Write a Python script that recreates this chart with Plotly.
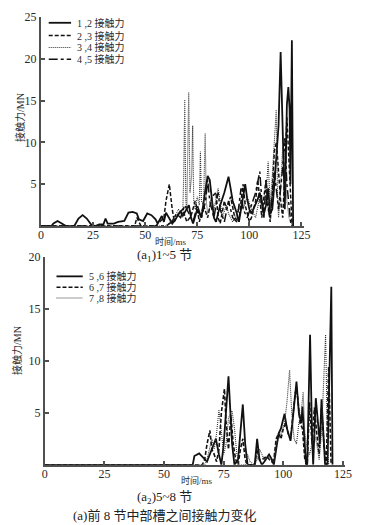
import plotly.graph_objects as go

# ---------------- data ----------------
# top panel: contact force between sections 1-5 (MN) vs time (ms)
t12 = [0, 5, 6, 8, 10, 12, 16, 18, 20, 22, 24, 26, 28, 30, 31, 32, 35, 37, 40, 42, 44, 46, 47, 49, 51, 53, 55, 56, 58, 59, 60, 62, 63, 65, 67, 68, 70, 71, 72, 73, 75, 77, 79, 80, 81, 82, 83, 84, 86, 88, 90, 91, 92, 94, 95, 97, 98, 99, 100, 101, 103, 104, 105, 106, 107, 108, 109, 110, 111, 112, 113, 114, 115, 116, 117, 117.5, 118, 118.7, 119.3, 119.7, 120.4, 121]
f12 = [0, 0, 0.3, 0.6, 0.3, 0, 0, 0.9, 1.3, 0.9, 0.2, 0, 0.2, 0.2, 0.9, 0.3, 0.3, 0.5, 0.6, 1.6, 1.7, 1.5, 0.8, 0.6, 1.5, 1.3, 0.8, 0.3, 1.2, 0.5, 1.6, 0.7, 0.3, 1.0, 1.8, 1.2, 2.2, 2.5, 1.0, 0.3, 2.0, 1.0, 4.5, 6.0, 5.5, 3.0, 1.0, 0.5, 2.5, 4.0, 5.9, 4.5, 3.0, 1.5, 0.5, 3.5, 5.0, 3.2, 2.0, 1.5, 2.5, 3.2, 4.0, 2.5, 1.5, 2.5, 4.5, 1.5, 2.0, 5.0, 8.0, 12.0, 20.8, 10.0, 2.0, 8.0, 14.5, 16.6, 14.0, 5.0, 22.2, 0]

t23 = [0, 45, 46, 47, 48, 55, 57, 59, 60, 61.6, 63, 64, 66, 68, 70, 72, 74, 75, 76, 78, 80, 82, 84, 85, 86, 88, 89, 91, 93, 95, 96, 97, 98, 100, 101, 103, 104, 105, 106, 107, 108, 109, 110, 111, 112, 113, 114, 115, 116, 117, 118, 119, 120, 120.5]
f23 = [0, 0, 1.0, 0.5, 0, 0, 0.5, 1.0, 3.0, 5.0, 2.0, 0.5, 1.5, 2.0, 0.5, 1.2, 3.0, 2.0, 0.5, 2.5, 1.0, 3.5, 4.0, 1.0, 0.3, 3.0, 2.0, 3.5, 1.0, 0.5, 3.0, 5.0, 2.5, 0.5, 1.0, 3.0, 5.5, 3.0, 1.0, 3.5, 5.5, 2.5, 0.5, 4.0, 9.0, 10.0, 6.0, 3.0, 1.0, 6.0, 13.0, 8.0, 2.0, 0]

t34 = [0, 60, 62, 64, 66, 68, 68.5, 69, 69.5, 70, 70.5, 70.9, 71.5, 72.3, 72.8, 73.3, 74, 75, 76, 76.5, 77, 78, 78.8, 79.3, 80, 82, 83, 85, 86, 87, 89, 90, 92, 94, 96, 97, 99, 101, 103, 105, 106, 108, 109, 110, 111, 112.9, 113.5, 114, 115, 116, 117, 118, 119, 120, 121]
f34 = [0, 0, 0.5, 1.0, 2.0, 1.0, 6.0, 15.1, 3.0, 2.0, 10.0, 16.0, 4.0, 6.0, 12.0, 3.0, 2.0, 3.5, 2.5, 8.9, 3.0, 2.5, 11.1, 3.0, 1.5, 3.0, 2.0, 4.5, 3.0, 1.0, 2.5, 1.5, 0.5, 1.5, 3.0, 2.0, 3.5, 2.0, 1.0, 3.5, 2.0, 3.5, 7.7, 2.5, 6.0, 13.9, 4.0, 1.0, 4.5, 9.5, 7.0, 3.0, 1.0, 0.5, 0]

t45 = [0, 60, 63, 65, 67, 69, 71, 73, 75, 77, 79, 80, 81, 83, 85, 86, 88, 90, 92, 94, 96, 97, 99, 101, 103, 105, 106, 107, 108, 109, 110, 112, 113, 114, 116, 117, 118, 119, 120]
f45 = [0, 0, 0.5, 1.5, 1.0, 2.5, 1.5, 0.5, 2.5, 1.0, 3.0, 5.5, 3.0, 1.0, 4.0, 2.0, 0.5, 3.0, 1.0, 0.5, 4.5, 2.0, 1.0, 2.5, 4.0, 6.5, 3.0, 1.0, 5.5, 2.0, 1.0, 6.5, 4.0, 2.0, 7.0, 10.5, 5.0, 2.0, 0]

# bottom panel: contact force between sections 5-8
t56 = [0, 62, 62.7, 64.7, 68, 70, 71.7, 73, 74, 75, 77, 78.5, 79.5, 81, 83, 84, 85, 88, 89, 90, 91, 92, 94, 95, 96, 97, 98, 99, 100.5, 101.5, 103, 104, 105.5, 106.5, 107.5, 108, 109, 109.5, 110, 111.2, 112, 112.5, 113.6, 114.5, 115.3, 116, 117, 117.5, 118.5, 120.1, 120.6]
f56 = [0, 0, 0.85, 1.1, 0.3, 1.5, 2.5, 1.0, 0, 2.0, 8.5, 2.0, 0, 0.5, 5.8, 2.0, 0, 0, 2.5, 0.5, 0, 0.3, 1.0, 0.6, 0, 1.5, 3.0, 3.5, 4.9, 3.5, 2.3, 4.5, 8.0, 5.0, 4.0, 5.6, 1.5, 0, 0, 12.5, 3.0, 0, 6.4, 4.0, 2.0, 6.3, 2.0, 0, 0, 17.1, 0]

t67 = [0, 66, 67, 68, 69.2, 70, 71, 72, 73, 74, 75.3, 76, 77, 78, 79, 80, 81, 82, 83, 84, 85, 88, 89, 90, 91, 93, 95, 96, 97, 98, 99, 100, 101, 102, 103, 104, 105, 106, 107, 108, 109, 110, 111, 112, 113, 114, 115, 116, 117, 118, 119, 119.7, 120]
f67 = [0, 0, 0.5, 2.0, 3.3, 1.5, 1.0, 0.3, 1.5, 5.0, 7.3, 4.0, 1.5, 4.8, 2.0, 0.5, 0, 1.5, 2.5, 0.5, 0, 0, 1.5, 0.5, 0.5, 0.8, 0.3, 0.5, 2.5, 3.0, 2.5, 3.5, 4.0, 3.0, 2.5, 4.5, 7.0, 6.5, 4.0, 3.5, 0.5, 0, 6.0, 2.0, 5.5, 3.0, 1.0, 5.5, 2.0, 0, 9.4, 3.0, 0]

t78 = [0, 67, 68, 70, 71, 72, 73, 74, 75, 76, 77, 78.5, 79.5, 80.5, 81.5, 84, 85, 86, 88, 89, 90, 92, 94, 96, 97, 98, 99, 100.5, 101.5, 102.6, 103.5, 104.5, 105.5, 106.5, 107.5, 108.3, 109, 110, 111, 112, 113, 114, 115, 116, 117, 117.7, 118.5, 119]
f78 = [0, 0, 0.5, 2.5, 1.5, 3.0, 5.3, 3.0, 1.0, 2.0, 4.5, 5.2, 3.5, 1.0, 0, 0, 1.0, 0.3, 0, 0.5, 1.5, 0.5, 0.8, 0.3, 2.0, 2.5, 3.0, 4.0, 6.0, 9.1, 5.0, 2.5, 2.0, 4.0, 5.0, 7.0, 3.0, 1.5, 1.0, 2.0, 3.0, 2.0, 0.5, 3.0, 8.0, 12.5, 2.0, 0]

top_names = ["1 ,2 接触力", "2 ,3 接触力", "3 ,4 接触力", "4 ,5 接触力"]
bot_names = ["5 ,6 接触力", "6 ,7 接触力", "7 ,8 接触力"]
x_ticks = [0, 25, 50, 75, 100, 125]
top_yticks = [5, 10, 15, 20, 25]
bot_yticks = [5, 10, 15, 20]

# ---------------- figure ----------------
W, H = 366, 525
TXT = "#2a2a2a"
AX = "#505050"
SERIF = "Liberation Serif, Noto Sans CJK SC, serif"
CJK = "Liberation Serif, Noto Sans CJK SC, serif"

def px(x):
    return x / W

def py(y):
    return 1 - y / H

fig = go.Figure()

top_styles = [
    dict(color="#111111", width=1.8, dash="solid"),
    dict(color="#111111", width=1.5, dash="4px,2px"),
    dict(color="#333333", width=1.1, dash="1px,1px"),
    dict(color="#111111", width=1.5, dash="dashdot"),
]
bot_styles = [
    dict(color="#111111", width=1.8, dash="solid"),
    dict(color="#111111", width=1.6, dash="4px,2px"),
    dict(color="#333333", width=1.1, dash="1px,1px"),
]

for (t, f), name, st in zip([(t12, f12), (t23, f23), (t34, f34), (t45, f45)], top_names, top_styles):
    fig.add_trace(go.Scatter(x=t, y=f, mode="lines", name=name, line=st,
                             xaxis="x", yaxis="y", showlegend=False))
for (t, f), name, st in zip([(t56, f56), (t67, f67), (t78, f78)], bot_names, bot_styles):
    fig.add_trace(go.Scatter(x=t, y=f, mode="lines", name=name, line=st,
                             xaxis="x2", yaxis="y2", showlegend=False))

axis_common = dict(showgrid=False, zeroline=False, showline=True, linecolor=AX, linewidth=2,
                   ticks="inside", ticklen=4, tickwidth=1.5, tickcolor=AX,
                   tickfont=dict(family=SERIF, size=12, color=TXT))

fig.update_layout(
    width=W, height=H,
    margin=dict(l=0, r=0, t=0, b=0),
    paper_bgcolor="white", plot_bgcolor="white",
    showlegend=False,
    xaxis=dict(domain=[px(39), px(309)], range=[0, 126], anchor="y",
               tickvals=x_ticks, ticklabelstandoff=-3, **axis_common),
    yaxis=dict(domain=[py(222), py(10)], range=[0, 25], anchor="x",
               tickvals=top_yticks, **axis_common),
    xaxis2=dict(domain=[px(43), px(352)], range=[0, 126], anchor="y2",
                tickvals=x_ticks, ticklabelstandoff=-3, **axis_common),
    yaxis2=dict(domain=[py(464), py(253)], range=[0, 20], anchor="x2",
                tickvals=bot_yticks, **axis_common),
)

def note(x, y, text, size, color=TXT, angle=0, xanchor="center"):
    return dict(xref="paper", yref="paper", x=px(x), y=py(y), text=text, textangle=angle,
                showarrow=False, xanchor=xanchor, yanchor="middle",
                font=dict(family=CJK, size=size, color=color))

# manual legends (compact rows as in the reference)
shapes = []
annotations = []
top_rows = [16, 29, 41, 53]
for yy, name, st in zip(top_rows, top_names, top_styles):
    shapes.append(dict(type="line", xref="paper", yref="paper",
                       x0=px(47), x1=px(70), y0=py(yy), y1=py(yy),
                       line=dict(color=st["color"], width=st["width"], dash=st["dash"])))
    annotations.append(note(74, yy, name, 10, xanchor="left"))
bot_rows = [273, 284, 295]
for yy, name, st in zip(bot_rows, bot_names, bot_styles):
    shapes.append(dict(type="line", xref="paper", yref="paper",
                       x0=px(55), x1=px(82), y0=py(yy), y1=py(yy),
                       line=dict(color=st["color"], width=st["width"], dash=st["dash"])))
    annotations.append(note(86, yy, name, 10, xanchor="left"))

# axis titles and captions
annotations += [
    note(17, 112, "接触力/MN", 10, angle=-90),
    note(15, 348, "接触力/MN", 10, angle=-90),
    note(173, 238, "时间/ms", 9),
    note(199, 480, "时间/ms", 9),
    note(166, 252, "(a<sub>1</sub>)1~5 节", 13, color="#222222"),
    note(166, 497, "(a<sub>2</sub>)5~8 节", 13, color="#222222"),
    note(166, 515, "(a)前 8 节中部槽之间接触力变化", 13, color="#222222"),
]

fig.update_layout(shapes=shapes, annotations=annotations)
fig.write_html("out.html", config={"displayModeBar": False},
               post_script="document.body.style.margin='0';document.body.style.padding='0';")
